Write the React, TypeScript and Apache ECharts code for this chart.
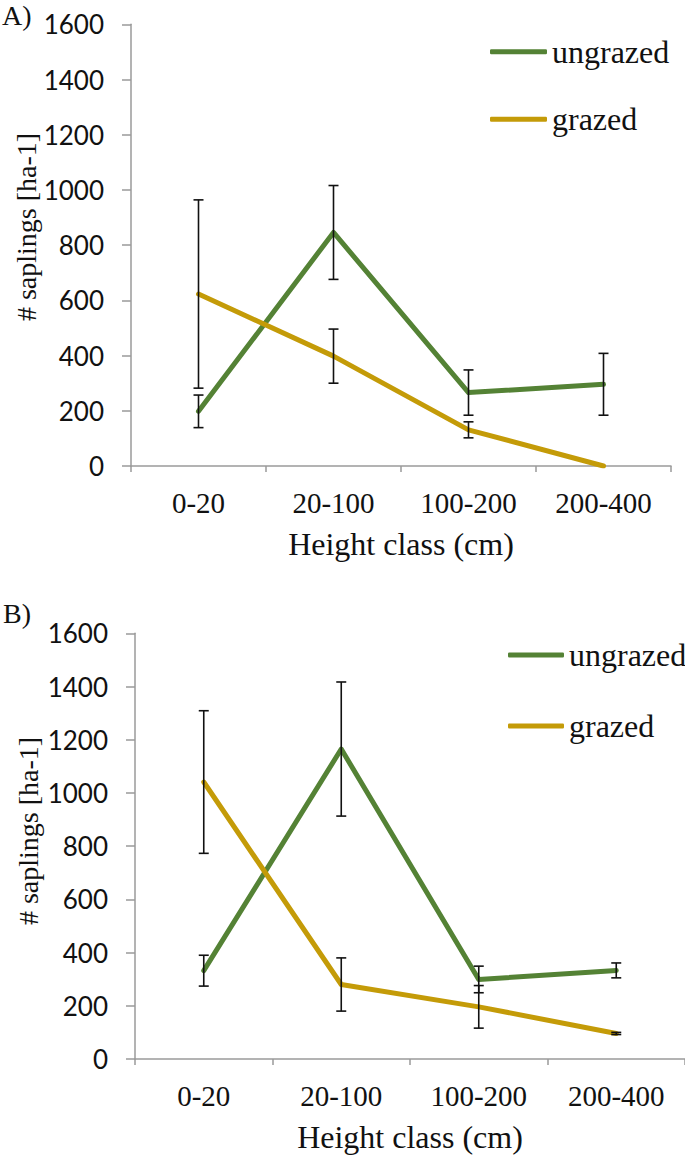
import React, { useEffect, useRef } from "react";
import * as echarts from "echarts";

// ---------- data ----------
const categories = ["0-20", "20-100", "100-200", "200-400"];
const yTicks = [0, 200, 400, 600, 800, 1000, 1200, 1400, 1600];

// Panel A
const ungrazedA = [198, 846, 266, 296];
const ungrazedAErr = [59, 170, 82, 112];
const grazedA = [623, 398, 131, 0];
const grazedAErr = [341, 98, 29, 0];

// Panel B
const ungrazedB = [332, 1165, 299, 333];
const ungrazedBErr = [58, 252, 50, 28];
const grazedB = [1041, 280, 196, 96];
const grazedBErr = [268, 100, 80, 4];

const seriesNames = ["ungrazed", "grazed"];
const panelLabels = ["A)", "B)"];
const xTitle = "Height class (cm)";
const yTitle = "# saplings [ha-1]";

const GREEN = "#548235";
const GOLD = "#C49B08";
const AXIS = "#9a9a9a";
const SERIF = "Liberation Serif";
const SANS = "Lato";

function errData(vals: number[], errs: number[]) {
  const out: number[][] = [];
  vals.forEach((v, i) => {
    if (errs[i] > 0) out.push([i, v - errs[i], v + errs[i]]);
  });
  return out;
}

function renderErr(params: any, api: any) {
  const x = api.value(0);
  const lo = api.value(1);
  const hi = api.value(2);
  const top = api.coord([x, hi]);
  const bot = api.coord([x, lo]);
  const w = 5;
  const style = { stroke: "#111", lineWidth: 1.6 };
  return {
    type: "group",
    children: [
      { type: "line", shape: { x1: top[0], y1: top[1], x2: bot[0], y2: bot[1] }, style },
      { type: "line", shape: { x1: top[0] - w, y1: top[1], x2: top[0] + w, y2: top[1] }, style },
      { type: "line", shape: { x1: bot[0] - w, y1: bot[1], x2: bot[0] + w, y2: bot[1] }, style },
    ],
  };
}

function xAxisFor(gridIndex: number) {
  return {
    type: "category",
    gridIndex,
    data: categories,
    boundaryGap: true,
    axisLine: { lineStyle: { color: AXIS, width: 1.5 } },
    axisTick: { show: true, length: 6, lineStyle: { color: AXIS, width: 1.5 } },
    axisLabel: { fontFamily: SERIF, fontSize: 29, color: "#111", margin: 22 },
    splitLine: { show: false },
    name: xTitle,
    nameLocation: "middle",
    nameGap: 62,
    nameTextStyle: { fontFamily: SERIF, fontSize: 32, color: "#111" },
  };
}

function yAxisFor(gridIndex: number) {
  return {
    type: "value",
    gridIndex,
    min: yTicks[0],
    max: yTicks[yTicks.length - 1],
    interval: yTicks[1] - yTicks[0],
    axisLine: { show: true, lineStyle: { color: AXIS, width: 1.5 } },
    axisTick: { show: true, length: 9, lineStyle: { color: AXIS, width: 1.5 } },
    axisLabel: {
      fontFamily: SANS,
      fontSize: 26,
      color: "#111",
      margin: 27,
      formatter: (v: number) => String(v),
    },
    splitLine: { show: false },
  };
}

function lineSeries(name: string, data: number[], color: string, idx: number) {
  return {
    type: "line",
    name,
    xAxisIndex: idx,
    yAxisIndex: idx,
    data,
    symbol: "none",
    lineStyle: { color, width: 5, cap: "round", join: "round" },
    itemStyle: { color },
    z: 2,
  };
}

function errSeries(name: string, vals: number[], errs: number[], idx: number) {
  return {
    type: "custom",
    name: name + " error",
    xAxisIndex: idx,
    yAxisIndex: idx,
    data: errData(vals, errs),
    encode: { x: 0, y: [1, 2] },
    renderItem: renderErr,
    z: 5,
    silent: true,
  };
}

function legendFor(left: number, top: number, gap: number, w: number) {
  return {
    left,
    top,
    orient: "vertical",
    data: seriesNames,
    icon: "roundRect",
    itemWidth: w,
    itemHeight: 5,
    itemGap: gap,
    textStyle: { fontFamily: SERIF, fontSize: 32, color: "#111" },
  };
}

function textEl(text: string, x: number, y: number, size: number, rotate: boolean, align: string) {
  return {
    type: "text",
    x,
    y,
    rotation: rotate ? Math.PI / 2 : 0,
    style: { text, fontFamily: SERIF, fontSize: size, fill: "#111", align, verticalAlign: "middle" },
  };
}

export default function App() {
  const ref = useRef<HTMLDivElement>(null);
  useEffect(() => {
    if (!ref.current) return;
    const chart = echarts.init(ref.current, undefined, { renderer: "svg" });
    chart.setOption({
      animation: false,
      backgroundColor: "#fff",
      grid: [
        { left: 131, top: 24.3, width: 540, height: 441.7 },
        { left: 135, top: 633.3, width: 550, height: 425.7 },
      ],
      xAxis: [xAxisFor(0), xAxisFor(1)],
      yAxis: [yAxisFor(0), yAxisFor(1)],
      legend: [legendFor(485, 30.7, 35.6, 57), legendFor(503, 634, 39, 56)],
      series: [
        lineSeries(seriesNames[0], ungrazedA, GREEN, 0),
        lineSeries(seriesNames[1], grazedA, GOLD, 0),
        errSeries(seriesNames[0], ungrazedA, ungrazedAErr, 0),
        errSeries(seriesNames[1], grazedA, grazedAErr, 0),
        lineSeries(seriesNames[0], ungrazedB, GREEN, 1),
        lineSeries(seriesNames[1], grazedB, GOLD, 1),
        errSeries(seriesNames[0], ungrazedB, ungrazedBErr, 1),
        errSeries(seriesNames[1], grazedB, grazedBErr, 1),
      ],
      graphic: [
        textEl(panelLabels[0], 2, 15, 28, false, "left"),
        textEl(panelLabels[1], 3, 613, 28, false, "left"),
        textEl(yTitle, 26.5, 227, 28, true, "center"),
        textEl(yTitle, 28.5, 831, 28, true, "center"),
      ],
    });
    return () => chart.dispose();
  }, []);
  return (
    <div
      ref={ref}
      style={{ position: "absolute", left: 0, top: 0, width: 685, height: 1162, background: "#fff" }}
    />
  );
}
